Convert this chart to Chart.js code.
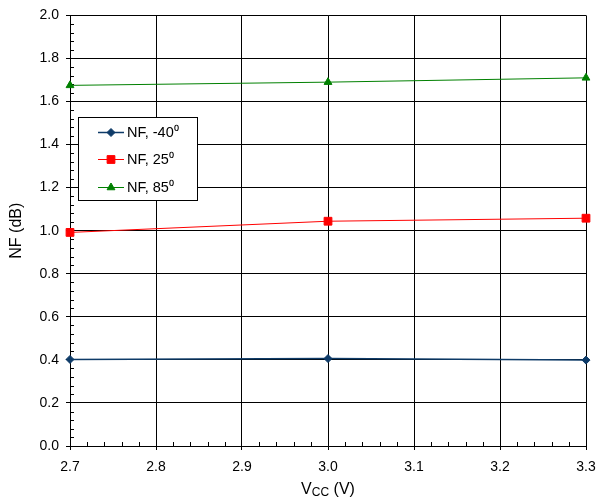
<!DOCTYPE html>
<html><head><meta charset="utf-8">
<script src="https://cdn.jsdelivr.net/npm/chart.js@4/dist/chart.umd.min.js"></script>
<style>
html,body{margin:0;padding:0;background:#fff;}
#wrap{position:relative;width:596px;height:503px;}
#xt{position:absolute;left:70px;width:516px;top:480px;text-align:center;font:16px "Liberation Sans",Arial,sans-serif;color:#000;}
#xt sub{font-size:12px;vertical-align:-2px;}
</style></head>
<body>
<div id="wrap"><canvas id="c" width="596" height="503"></canvas><div id="xt">V<sub>CC</sub> (V)</div></div>
<script>
const vcc = [2.7, 3.0, 3.3];
const nfM40 = [0.402, 0.406, 0.399];
const nf25 = [0.992, 1.044, 1.058];
const nf85 = [1.675, 1.69, 1.71];
const seriesLabels = ['NF, -40\u2070', 'NF, 25\u2070', 'NF, 85\u2070'];
const xMin = 2.7, xMax = 3.3, xStep = 0.1;
const yMin = 0, yMax = 2.0, yStep = 0.2;
const yTitle = 'NF (dB)';

const FONT = '"Liberation Sans", Arial, sans-serif';
const colors = ['#0E3B68', '#FF0000', '#008000'];
const styles = ['rectRot', 'rect', 'triangle'];
const radii = [4, 5.5, 4.5];
const widths = [1.5, 1, 1];
const series = [nfM40, nf25, nf85];

const datasets = series.map((s, i) => ({
  label: seriesLabels[i],
  data: vcc.map((x, j) => ({x: x, y: s[j]})),
  borderColor: colors[i], backgroundColor: colors[i],
  borderWidth: widths[i], pointStyle: styles[i], pointRadius: radii[i],
  pointBorderWidth: 1, pointBorderColor: colors[i], pointBackgroundColor: colors[i],
  tension: 0, clip: false
}));

function drawMarker(ctx, style, r, x, y, col) {
  ctx.save(); ctx.fillStyle = col; ctx.strokeStyle = col; ctx.lineWidth = 1;
  ctx.beginPath();
  if (style === 'rect') { const s = r / Math.SQRT2; ctx.rect(x - s, y - s, 2 * s, 2 * s); }
  else if (style === 'rectRot') { ctx.moveTo(x, y - r); ctx.lineTo(x + r, y); ctx.lineTo(x, y + r); ctx.lineTo(x - r, y); ctx.closePath(); }
  else { const w = r * Math.sqrt(3) / 2; ctx.moveTo(x, y - r); ctx.lineTo(x + w, y + r / 2); ctx.lineTo(x - w, y + r / 2); ctx.closePath(); }
  ctx.fill(); ctx.stroke(); ctx.restore();
}

const minorTicks = {
  id: 'minorTicks',
  beforeDatasetsDraw(chart) {
    const ctx = chart.ctx, xs = chart.scales.x, ys = chart.scales.y;
    ctx.save(); ctx.strokeStyle = '#000'; ctx.lineWidth = 1;
    ctx.beginPath();
    const nx = Math.round((xMax - xMin) / 0.02);
    for (let i = 1; i < nx; i++) {
      if (i % 5 === 0) continue;
      const px = Math.round(xs.getPixelForValue(xMin + i * 0.02)) + 0.5;
      ctx.moveTo(px, ys.bottom); ctx.lineTo(px, ys.bottom - 4);
    }
    const ny = Math.round((yMax - yMin) / 0.04);
    for (let i = 1; i < ny; i++) {
      if (i % 5 === 0) continue;
      const py = Math.round(ys.getPixelForValue(yMin + i * 0.04)) + 0.5;
      ctx.moveTo(xs.left, py); ctx.lineTo(xs.left + 4, py);
    }
    ctx.stroke(); ctx.restore();
  }
};

const boxLegend = {
  id: 'boxLegend',
  afterDraw(chart) {
    const ctx = chart.ctx;
    const bx = 78.5, by = 117.5, bw = 119, bh = 83;
    ctx.save();
    ctx.fillStyle = '#fff'; ctx.fillRect(bx, by, bw, bh);
    ctx.strokeStyle = '#000'; ctx.lineWidth = 1; ctx.strokeRect(bx, by, bw, bh);
    const rows = [132, 159, 187];
    ctx.font = '14.5px ' + FONT; ctx.textBaseline = 'middle'; ctx.fillStyle = '#000';
    chart.data.datasets.forEach((d, i) => {
      const y = rows[i];
      ctx.strokeStyle = colors[i]; ctx.lineWidth = widths[i];
      ctx.beginPath(); ctx.moveTo(98, y + 0.5); ctx.lineTo(124, y + 0.5); ctx.stroke();
      drawMarker(ctx, styles[i], radii[i], 111, y + 0.5, colors[i]);
      ctx.fillStyle = '#000';
      ctx.fillText(d.label, 127, y + 1);
    });
    ctx.restore();
  }
};

new Chart(document.getElementById('c'), {
  type: 'line',
  data: { datasets: datasets },
  options: {
    responsive: false, animation: false,
    layout: { padding: { top: 13, right: 0, left: 0, bottom: 0 } },
    plugins: { legend: { display: false }, tooltip: { enabled: false } },
    scales: {
      x: {
        type: 'linear', min: xMin, max: xMax,
        ticks: { stepSize: xStep, color: '#000', font: { family: FONT, size: 14 }, padding: 9, maxRotation: 0,
          callback: v => Number(v).toFixed(1) },
        grid: { color: '#000', lineWidth: 1, tickLength: 4, tickColor: '#000' },
        border: { color: '#000', width: 1 },
        afterFit: s => { s.height = 57; s.paddingRight = 10; }
      },
      y: {
        min: yMin, max: yMax,
        ticks: { stepSize: yStep, color: '#000', font: { family: FONT, size: 14 }, padding: 7,
          callback: v => Number(v).toFixed(1) },
        grid: { color: '#000', lineWidth: 1, tickLength: 4, tickColor: '#000' },
        border: { color: '#000', width: 1 },
        title: { display: true, text: yTitle, color: '#000', font: { family: FONT, size: 16 }, padding: { top: 7, bottom: 0 } },
        afterFit: s => { s.width = 70; }
      }
    }
  },
  plugins: [minorTicks, boxLegend]
});
</script>
</body></html>
